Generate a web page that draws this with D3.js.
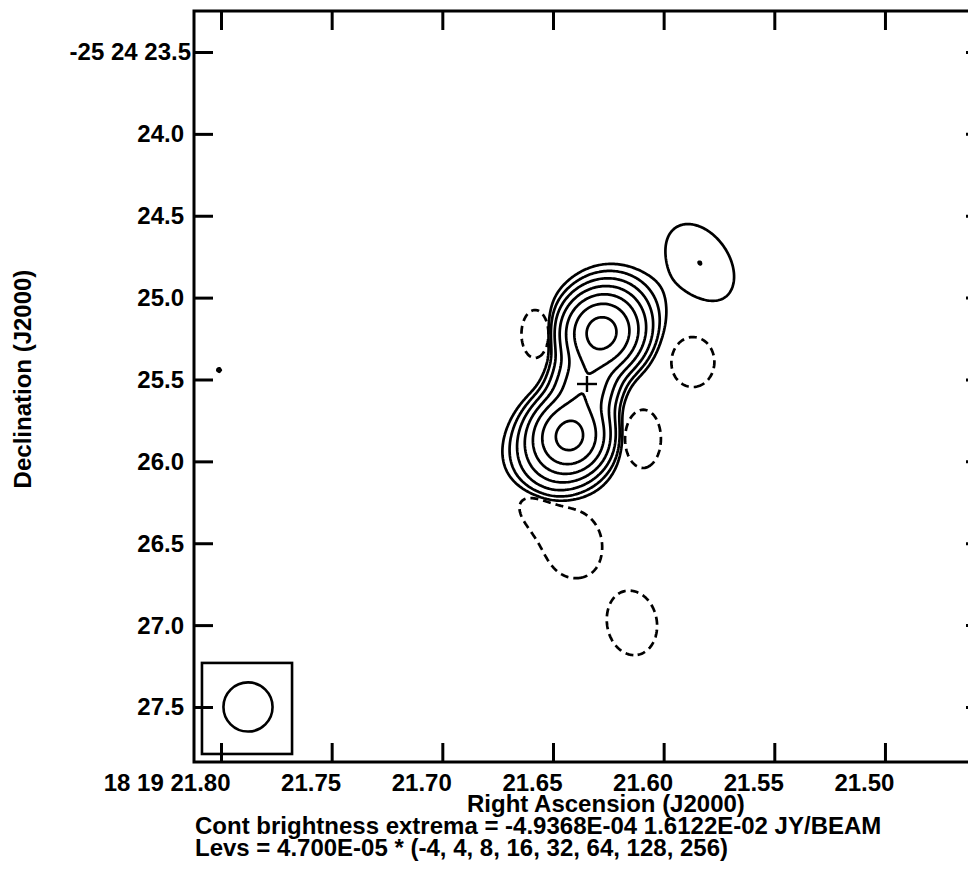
<!DOCTYPE html>
<html><head><meta charset="utf-8">
<script src="https://cdn.jsdelivr.net/npm/d3@7"></script>
<style>
body{margin:0;background:#fff;}
text{font-family:"Liberation Sans",Arial,Helvetica,sans-serif;font-weight:bold;fill:#000;}
</style></head><body>
<svg id="chart" width="968" height="869"></svg>
<script>
// ---------- axis data ----------
const raTicks = [21.80, 21.75, 21.70, 21.65, 21.60, 21.55, 21.50];
const raTickLabels = ["18 19 21.80", "21.75", "21.70", "21.65", "21.60", "21.55", "21.50"];
const decTicks = [23.5, 24.0, 24.5, 25.0, 25.5, 26.0, 26.5, 27.0, 27.5];
const decTickLabels = ["-25 24 23.5", "24.0", "24.5", "25.0", "25.5", "26.0", "26.5", "27.0", "27.5"];
const raExtent = [21.8122, 21.4548];   // RA seconds (18h19m) at frame edges
const decExtent = [23.2496, 27.836];   // Dec arcsec (-25d24m) at frame edges
const xTitle = "Right Ascension (J2000)";
const yTitle = "Declination (J2000)";
const footLines = ["Cont brightness extrema = -4.9368E-04 1.6122E-02 JY/BEAM",
                   "Levs = 4.700E-05 * (-4, 4, 8, 16, 32, 64, 128, 256)"];

// ---------- contour levels ----------
const levelUnit = 4.7e-5;                       // Jy/beam
const levelMultipliers = [-4, 4, 8, 16, 32, 64, 128, 256];

// ---------- emission components (read from the map) ----------
// positive: N core, N halo, S core, S halo, bridge, NE blob, W speck
const posRA    = [21.62832, 21.62335, 21.64232, 21.64955, 21.63555, 21.58359, 21.80090];
const posDec   = [25.2160, 25.1244, 25.8450, 25.9611, 25.5336, 24.7885, 25.4420];
const posPeak  = [1.410e-2, 2.162e-3, 1.3865e-2, 1.786e-3, 5.358e-3, 3.7635e-4, 1.8941e-4]; // Jy/beam
const posMaj   = [0.273, 0.345, 0.273, 0.345, 0.345, 0.524, 0.216];  // FWHM arcsec
const posMin   = [0.273, 0.345, 0.273, 0.345, 0.244, 0.354, 0.216];
const posPA    = [0, 0, 0, 0, -17, 35, 0];                           // deg east of north
// negative components: E hole, W hole, SW hole, S blob (2 parts), far S hole
const negRA    = [21.65814, 21.58675, 21.60934, 21.64052, 21.65543, 21.61431];
const negDec   = [25.2221, 25.3931, 25.8634, 26.5107, 26.3458, 26.9870];
const negPeak  = [-3.29e-4, -3.29e-4, -3.29e-4, -4.9368e-4, -2.82e-4, -3.29e-4];
const negMaj   = [0.326, 0.339, 0.394, 0.331, 0.403, 0.440];
const negMin   = [0.184, 0.292, 0.244, 0.279, 0.220, 0.339];
const negPA    = [0, 0, 0, 0, 50, 10];

// ---------- beam & marker ----------
const beamRA = [21.7878], beamDec = [27.50], beamFWHM = [0.30];
const beamBoxRA = [21.8086, 21.7679], beamBoxDec = [27.231, 27.787];
const crossRA = [21.63464], crossDec = [25.5275];

// ---------- layout ----------
const frame = {left: 194, top: 11, right: 985, bottom: 762};
const svg = d3.select("#chart");
const x = d3.scaleLinear().domain(raExtent).range([frame.left, frame.right]);
const y = d3.scaleLinear().domain(decExtent).range([frame.top, frame.bottom]);
const pxPerArcsec = (frame.bottom - frame.top) / (decExtent[1] - decExtent[0]);

const cosDec = Math.cos(25.4 * Math.PI / 180);
const K = 4 * Math.LN2;

function field(ra, dec, cRA, cDec, cPk, cMaj, cMin, cPA) {
  let s = 0;
  for (let k = 0; k < cRA.length; k++) {
    const dE = (ra - cRA[k]) * 15 * cosDec;
    const dN = -(dec - cDec[k]);
    const t = cPA[k] * Math.PI / 180;
    const u = dE * Math.sin(t) + dN * Math.cos(t);
    const v = dE * Math.cos(t) - dN * Math.sin(t);
    s += cPk[k] * Math.exp(-K * (u * u / (cMaj[k] * cMaj[k]) + v * v / (cMin[k] * cMin[k])));
  }
  return s;
}

// grid in sky coordinates
const step = 0.01; // arcsec
const nx = Math.ceil((raExtent[0] - raExtent[1]) * 15 * cosDec / step);
const ny = Math.ceil((decExtent[1] - decExtent[0]) / step);
const dRA = (raExtent[1] - raExtent[0]) / nx;
const dDec = (decExtent[1] - decExtent[0]) / ny;
const mapGrid = new Float64Array(nx * ny);   // full map: positive + negative
const negGrid = new Float64Array(nx * ny);   // negative structure (sign flipped)
for (let j = 0; j < ny; j++) {
  const dec = decExtent[0] + (j + 0.5) * dDec;
  for (let i = 0; i < nx; i++) {
    const ra = raExtent[0] + (i + 0.5) * dRA;
    const p = field(ra, dec, posRA, posDec, posPeak, posMaj, posMin, posPA);
    const n = field(ra, dec, negRA, negDec, negPeak, negMaj, negMin, negPA);
    mapGrid[j * nx + i] = (p + n) / levelUnit;
    negGrid[j * nx + i] = -n / levelUnit;
  }
}
const proj = d3.geoTransform({
  point: function(gx, gy) {
    this.stream.point(x(raExtent[0] + gx * dRA), y(decExtent[0] + gy * dDec));
  }
});
const path = d3.geoPath(proj);

const posLevels = levelMultipliers.filter(m => m > 0);
const negLevels = levelMultipliers.filter(m => m < 0).map(m => -m);

const gC = svg.append("g");
gC.selectAll("path.pos")
  .data(d3.contours().size([nx, ny]).thresholds(posLevels)(mapGrid))
  .join("path").attr("class", "pos")
  .attr("d", path).attr("fill", "none").attr("stroke", "#000")
  .attr("stroke-width", 2.7).attr("stroke-linejoin", "round");
gC.selectAll("path.neg")
  .data(d3.contours().size([nx, ny]).thresholds(negLevels)(negGrid))
  .join("path").attr("class", "neg")
  .attr("d", path).attr("fill", "none").attr("stroke", "#000")
  .attr("stroke-width", 2.7).attr("stroke-dasharray", "8,5");

// cross marker
gC.selectAll("g.cross").data(crossRA.map((r, i) => [r, crossDec[i]]))
  .join("g").attr("class", "cross")
  .each(function(d) {
    const cx = x(d[0]), cy = y(d[1]);
    const g = d3.select(this);
    g.append("line").attr("x1", cx - 10).attr("x2", cx + 10).attr("y1", cy).attr("y2", cy);
    g.append("line").attr("x1", cx).attr("x2", cx).attr("y1", cy - 8).attr("y2", cy + 8);
  })
  .selectAll("line").attr("stroke", "#000").attr("stroke-width", 2.4);

// beam
svg.append("rect")
  .attr("x", x(beamBoxRA[0])).attr("y", y(beamBoxDec[0]))
  .attr("width", x(beamBoxRA[1]) - x(beamBoxRA[0]))
  .attr("height", y(beamBoxDec[1]) - y(beamBoxDec[0]))
  .attr("fill", "none").attr("stroke", "#000").attr("stroke-width", 2.6);
svg.selectAll("circle.beam").data(beamRA.map((r, i) => [r, beamDec[i], beamFWHM[i]]))
  .join("circle").attr("class", "beam")
  .attr("cx", d => x(d[0])).attr("cy", d => y(d[1]))
  .attr("r", d => d[2] / 2 * pxPerArcsec)
  .attr("fill", "none").attr("stroke", "#000").attr("stroke-width", 2.6);

// frame
svg.append("rect").attr("x", frame.left).attr("y", frame.top)
  .attr("width", frame.right - frame.left).attr("height", frame.bottom - frame.top)
  .attr("fill", "none").attr("stroke", "#000").attr("stroke-width", 3);

// ticks via axes (inward)
const tl = 19;
const axB = d3.axisBottom(x).tickValues(raTicks).tickSize(-tl).tickFormat((d, i) => raTickLabels[i]);
const axT = d3.axisTop(x).tickValues(raTicks).tickSize(-tl).tickFormat("");
const axL = d3.axisLeft(y).tickValues(decTicks).tickSize(-tl).tickFormat((d, i) => decTickLabels[i]);
const axR = d3.axisRight(y).tickValues(decTicks).tickSize(-tl).tickFormat("");
function styleAxis(g) {
  g.select(".domain").remove();
  g.selectAll(".tick line").attr("stroke", "#000").attr("stroke-width", 3);
  g.selectAll(".tick text").attr("fill", "#000").style("font-size", "24px")
    .style("font-family", "'Liberation Sans',Arial,sans-serif").style("font-weight", "bold");
}
svg.append("g").attr("transform", `translate(0,${frame.bottom})`).call(axB).call(styleAxis)
  .selectAll(".tick text").attr("text-anchor", "end").attr("x", 9).attr("y", 29).attr("dy", 0);
svg.append("g").attr("transform", `translate(0,${frame.top})`).call(axT).call(styleAxis);
svg.append("g").attr("transform", `translate(${frame.left},0)`).call(axL).call(styleAxis)
  .selectAll(".tick text").attr("x", (d, i) => i === 0 ? -3 : -10).attr("dy", "0.33em");
svg.append("g").attr("transform", `translate(${frame.right},0)`).call(axR).call(styleAxis);

// titles
svg.append("text").attr("x", 467).attr("y", 812).attr("text-anchor", "start")
  .style("font-size", "24px").text(xTitle);
svg.append("text").attr("transform", "translate(31,379) rotate(-90)").attr("text-anchor", "middle")
  .style("font-size", "24px").text(yTitle);
svg.selectAll("text.foot").data(footLines).join("text").attr("class", "foot")
  .attr("x", 195).attr("y", (d, i) => 834 + i * 22)
  .style("font-size", "24px").text(d => d);
</script>
</body></html>
